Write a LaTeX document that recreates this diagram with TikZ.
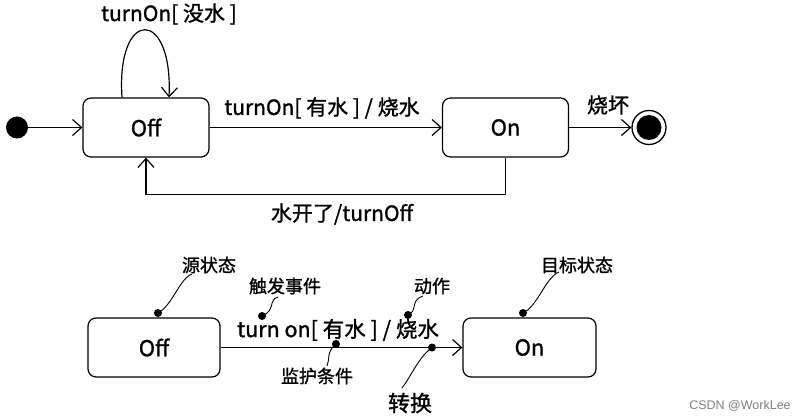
\documentclass[tikz,border=0pt]{standalone}
\usepackage{fontspec}
\setmainfont{Noto Sans CJK SC}[RawFeature={embolden=1.2}]
\newfontfamily\wmfont{Liberation Sans}
\usetikzlibrary{arrows.meta,calc}
\begin{document}
\begin{tikzpicture}[x=1pt,y=-1pt,
  state/.style={draw,line width=1.2pt,rounded corners=8pt,minimum width=126pt,minimum height=59pt,font=\fontsize{22}{22}\selectfont,inner sep=0},
  trans/.style={line width=1.2pt,-{Straight Barb[length=9pt,width=16pt,line width=1.2pt]}},
  lbl/.style={font=\fontsize{21}{21}\selectfont,inner sep=0},
  note/.style={font=\fontsize{18}{18}\selectfont,inner sep=0},
  wave/.style={line width=0.9pt},
  pin/.style={circle,fill,inner sep=0,minimum size=8pt}]
\useasboundingbox (0,0) rectangle (804,420);
% ---- top diagram ----
\node[state] (off) at (146,127.5) {Off};
\node[state] (on) at (505.5,127.5) {On};
\node[circle,fill,minimum size=22pt,inner sep=0] (init) at (17,127.5) {};
\node[circle,draw,line width=1.3pt,minimum size=34pt,inner sep=0] (final) at (649,127.5) {};
\fill (final.center) circle (12.5pt);
\draw[trans] (init) -- (off);
\draw[trans] (off) -- (on);
\draw[trans] (on) -- (final);
\draw[trans] (on.south) -- ++(0,37) -| (off.south);
\coordinate (la) at ($(off.north)+(-24,0)$);
\coordinate (lb) at ($(off.north)+(23,0)$);
\draw[trans] (la) .. controls +(-6,-90) and +(4,-90) .. (lb);
\node[lbl] (l1) at (322,108) {turnOn[ 有水 ] / 烧水};
\node[lbl] (l2) at (608,105) {烧坏};
\node[lbl] (l3) at (169,14) {turnOn[ 没水 ]};
\node[lbl] (l4) at (342,214) {水开了/turnOff};
% ---- bottom diagram ----
\node[state,minimum width=132pt] (off2) at (154,347.5) {Off};
\node[state,minimum width=133pt] (on2) at (529.5,347.5) {On};
\draw[trans] (off2) -- (on2);
\node[lbl,font=\fontsize{21.5}{21.5}\selectfont] (ev) at (338,330) {turn on[ 有水 ] / 烧水};
% notes
\node[note] (src) at (209,265) {源状态};
\node[note] (trig) at (285,286) {触发事件};
\node[note] (act) at (432,286) {动作};
\node[note] (grd) at (317,376) {监护条件};
\node[note,font=\fontsize{22}{22}\selectfont] (tr) at (410,403) {转换};
\node[note] (tgt) at (577,265) {目标状态};
\node[pin] (p1) at (158,313) {};
\node[pin] (p2) at (262,316) {};
\node[pin] (p3) at (408,315) {};
\node[pin] (p4) at (336,344) {};
\node[pin] (p5) at (432,347.5) {};
\node[pin] (p6) at (523,313) {};
\coordinate (e1) at (192,274);
\coordinate (e2) at (278,297);
\coordinate (e3) at (423,296);
\coordinate (e4) at (327,366);
\coordinate (e5) at (402,388);
\coordinate (e6) at (559,272);
\draw[wave] (p1.center) .. controls (172,306) and (180,278) .. (e1);
\draw[wave] (p2.center) .. controls (276,310) and (268,300) .. (e2);
\draw[wave] (p3.center) .. controls (418,311) and (410,300) .. (e3);
\draw[wave] (p4.center) .. controls (326,352) and (330,360) .. (e4);
\draw[wave] (p5.center) .. controls (418,358) and (412,375) .. (e5);
\draw[wave] (p6.center) .. controls (538,306) and (545,278) .. (e6);
\node[font=\wmfont\fontsize{12.5}{12.5}\selectfont,text=gray,inner sep=0] (wm) at (740,406) {CSDN @WorkLee};
\end{tikzpicture}
\end{document}
